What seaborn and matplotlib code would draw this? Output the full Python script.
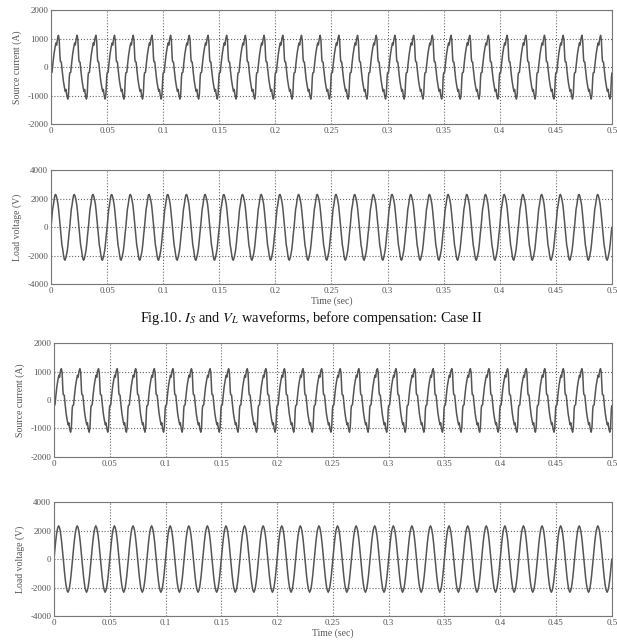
import numpy as np
import pandas as pd
import matplotlib
matplotlib.use("Agg")
import matplotlib.pyplot as plt
import seaborn as sns

# one 60 Hz cycle (time in ms inside the cycle, value)
n_cycles = 30
period_ms = 1000.0 / 60

cur_ms = [0.0, 0.9, 1.6, 2.6, 3.6, 4.4, 5.0, 5.8, 6.6, 7.3, 8.0,
          8.33, 9.2, 9.9, 10.9, 11.9, 12.7, 13.3, 14.1, 14.9, 15.6, 16.3]
cur_before = [-200, -180, 100, 450, 700, 850, 780, 1000, 1120, 950, 350,
              200, 180, -100, -450, -700, -850, -780, -1000, -1120, -950, -350]
cur_after = [-200, -170, 120, 480, 720, 870, 800, 1020, 1100, 960, 330,
             190, 170, -120, -480, -720, -870, -800, -1020, -1130, -960, -330]

volt_ms = [0.0, 0.69, 1.39, 2.08, 2.78, 3.47, 4.17, 4.86, 5.56, 6.25, 6.94, 7.64,
           8.33, 9.03, 9.72, 10.42, 11.11, 11.81, 12.50, 13.19, 13.89, 14.58, 15.28, 15.97]
volt_before = [0, 650, 1250, 1550, 1950, 2250, 2300, 2150, 1900, 1600, 1100, 500,
               -50, -650, -1250, -1550, -1950, -2250, -2320, -2150, -1900, -1600, -1100, -500]
volt_after = [0, 600, 1150, 1620, 1990, 2220, 2330, 2220, 1990, 1620, 1150, 600,
              0, -600, -1150, -1620, -1990, -2220, -2330, -2220, -1990, -1620, -1150, -600]

x_ticks = [0, 0.05, 0.1, 0.15, 0.2, 0.25, 0.3, 0.35, 0.4, 0.45, 0.5]
x_labels = ["0", "0.05", "0.1", "0.15", "0.2", "0.25", "0.3", "0.35", "0.4", "0.45", "0.5"]
cur_ticks = [-2000, -1000, 0, 1000, 2000]
volt_ticks = [-4000, -2000, 0, 2000, 4000]


def repeat_cycle(ms, vals):
    ms = np.asarray(ms) / 1000.0
    t = np.concatenate([ms + k * period_ms / 1000.0 for k in range(n_cycles)] + [[0.5]])
    v = np.concatenate([np.tile(vals, n_cycles), [vals[0]]])
    return pd.DataFrame({"t": t, "v": v})


sns.set_theme(style="white")
plt.rcParams["font.family"] = ["Liberation Serif", "DejaVu Serif"]
plt.rcParams["mathtext.fontset"] = "stix"
plt.rcParams["axes.unicode_minus"] = False

fig = plt.figure(figsize=(6.17, 6.40), dpi=100)

panels = [
    ([0.0827, 0.806, 0.909, 0.178], repeat_cycle(cur_ms, cur_before), cur_ticks, "Source current (A)", False),
    ([0.0827, 0.556, 0.909, 0.178], repeat_cycle(volt_ms, volt_before), volt_ticks, "Load voltage (V)", True),
    ([0.0875, 0.286, 0.904, 0.178], repeat_cycle(cur_ms, cur_after), cur_ticks, "Source current (A)", False),
    ([0.0875, 0.0375, 0.904, 0.178], repeat_cycle(volt_ms, volt_after), volt_ticks, "Load voltage (V)", True),
]

for rect, df, yt, ylab, show_x in panels:
    ax = fig.add_axes(rect)
    sns.lineplot(data=df, x="t", y="v", ax=ax, color="#555555", linewidth=1.1,
                 estimator=None, sort=False)
    ax.set_xlim(0, 0.5)
    ax.set_ylim(yt[0], yt[-1])
    ax.set_xticks(x_ticks)
    ax.set_xticklabels(x_labels)
    ax.set_yticks(yt)
    ax.set_yticklabels([str(v) for v in yt])
    ax.grid(True, linestyle=":", color="#666666", linewidth=0.8)
    ax.tick_params(direction="in", length=3, labelsize=6.5, colors="#555555", pad=2)
    for s in ax.spines.values():
        s.set_color("#777777")
        s.set_linewidth(0.8)
    ax.set_ylabel(ylab, fontsize=7, color="#555555", labelpad=4)
    ax.set_xlabel("Time (sec)" if show_x else "", fontsize=7, color="#555555", labelpad=1)

fig.text(0.505, 0.503,
         r"Fig.10. $I_S$ and $V_L$ waveforms, before compensation: Case II",
         ha="center", va="center", fontsize=10.4, color="#111111")

fig.savefig("out.png", dpi=100)
